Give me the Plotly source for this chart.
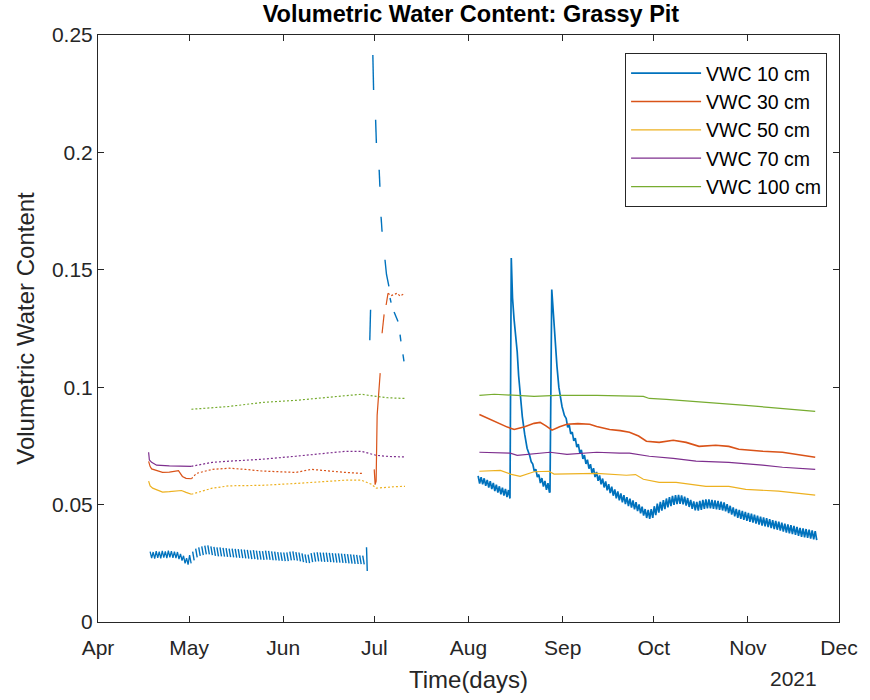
import pandas as pd
import plotly.graph_objects as go

# ---- series names and colours -------------------------------------------
depth_names = ["VWC 10 cm", "VWC 30 cm", "VWC 50 cm", "VWC 70 cm", "VWC 100 cm"]
depth_colors = ["#0072BD", "#D95319", "#EDB120", "#7E2F8E", "#77AC30"]

month_ticks = ["2021-04-01", "2021-05-01", "2021-06-01", "2021-07-01", "2021-08-01",
               "2021-09-01", "2021-10-01", "2021-11-01", "2021-12-01"]
month_labels = ["Apr", "May", "Jun", "Jul", "Aug", "Sep", "Oct", "Nov", "Dec"]
vwc_ticks = [0, 0.05, 0.1, 0.15, 0.2, 0.25]
vwc_labels = ["0", "0.05", "0.1", "0.15", "0.2", "0.25"]

# ---- 10 cm: daily high / low readings ------------------------------------
vwc10_apr_start = "2021-04-18"          # Apr 18 - May 1, continuous record
vwc10_apr_hi = [.0300, .0298, .0302, .0300, .0303, .0301, .0304, .0302, .0300, .0298,
                .0290, .0282, .0272, .0285]
vwc10_apr_lo = [.0272, .0270, .0273, .0271, .0274, .0272, .0275, .0273, .0272, .0268,
                .0262, .0250, .0244, .0250]

vwc10_mayjun_start = "2021-05-02"       # May 2 - Jun 27, intermittent record
vwc10_mayjun_hi = [.0300, .0312, .0318, .0322, .0325, .0326, .0322, .0320, .0318, .0318,
                   .0316, .0315, .0313, .0312, .0311, .0310, .0309, .0308, .0307, .0305,
                   .0306, .0304, .0303, .0302, .0304, .0303, .0301, .0300, .0298, .0297,
                   .0296, .0297, .0300, .0301, .0298, .0296, .0292, .0288, .0287, .0293,
                   .0296, .0297, .0296, .0295, .0295, .0294, .0293, .0292, .0292, .0291,
                   .0290, .0289, .0288, .0287, .0286, .0284, .0283]
vwc10_mayjun_lo = [.0262, .0275, .0282, .0285, .0288, .0288, .0285, .0282, .0280, .0280,
                   .0278, .0277, .0276, .0275, .0274, .0273, .0272, .0271, .0270, .0268,
                   .0268, .0266, .0266, .0265, .0266, .0265, .0263, .0262, .0261, .0260,
                   .0259, .0259, .0262, .0263, .0261, .0258, .0255, .0252, .0251, .0255,
                   .0257, .0258, .0257, .0256, .0256, .0255, .0254, .0253, .0253, .0252,
                   .0251, .0250, .0249, .0248, .0247, .0246, .0245]
vwc10_jun_end_dates = ["2021-06-28 10:00", "2021-06-28 16:00"]
vwc10_jun_end_vals = [.0318, .0217]

# early July: sparse readings after the wetting event (None = no data)
vwc10_jul_dates = ["2021-06-29 12:00", "2021-06-29 18:00", None,
                   "2021-06-30 12:00", "2021-06-30 18:00", None,
                   "2021-07-01 10:00", "2021-07-01 16:00", None,
                   "2021-07-02 14:00", "2021-07-02 20:00", None,
                   "2021-07-03 05:00", "2021-07-03 13:00", None,
                   "2021-07-04 12:00", "2021-07-05 00:00", "2021-07-05 19:00", None,
                   "2021-07-06 04:00", "2021-07-06 12:00", None,
                   "2021-07-07 12:00", "2021-07-08 19:00", None,
                   "2021-07-09 11:00", "2021-07-09 18:00", None,
                   "2021-07-10 10:00", "2021-07-10 18:00"]
vwc10_jul_vals = [.1200, .1330, None,
                  .2415, .2266, None,
                  .2139, .2040, None,
                  .1926, .1854, None,
                  .1726, .1662, None,
                  .1543, .1480, .1429, None,
                  .1380, .1360, None,
                  .1320, .1280, None,
                  .1224, .1195, None,
                  .1140, .1110]

vwc10_aug_start = "2021-08-04"          # Aug 4 - Aug 14
vwc10_aug_hi = [.0622, .0617, .0612, .0605, .0600, .0592, .0585, .0578, .0572, .0567, .0562]
vwc10_aug_lo = [.0590, .0586, .0580, .0573, .0566, .0558, .0551, .0544, .0538, .0532, .0526]

vwc10_storm1_dates = ["2021-08-15 02:00", "2021-08-15 12:00", "2021-08-16 00:00",
                      "2021-08-16 12:00", "2021-08-17 01:00", "2021-08-17 12:00",
                      "2021-08-18 00:00", "2021-08-18 17:00", "2021-08-19 12:00",
                      "2021-08-20 07:00"]
vwc10_storm1_vals = [.1550, .1380, .1290, .1220, .1150, .1050, .0960, .0876, .0800, .0740]

vwc10_lateaug_start = "2021-08-21"      # Aug 21 - Aug 27
vwc10_lateaug_hi = [.0708, .0673, .0651, .0628, .0613, .0601, .0591]
vwc10_lateaug_lo = [.0682, .0642, .0617, .0592, .0577, .0563, .0551]

vwc10_storm2_dates = ["2021-08-27 20:00", "2021-08-28 10:00", "2021-08-28 20:00",
                      "2021-08-29 08:00", "2021-08-30 03:00", "2021-08-30 18:00",
                      "2021-08-31 19:00", "2021-09-01 14:00"]
vwc10_storm2_vals = [.0555, .1416, .1330, .1220, .1090, .1000, .0918, .0880]

vwc10_fall_start = "2021-09-02"         # Sep 2 - Nov 23
vwc10_fall_hi = [
    # Sep
    .0867, .0839, .0809, .0783, .0757, .0733, .0711, .0691, .0672, .0655,
    .0639, .0624, .0611, .0599, .0587, .0576, .0565, .0556, .0548, .0540,
    .0532, .0525, .0518, .0510, .0501, .0491, .0481, .0477, .0481,
    # Oct
    .0493, .0504, .0512, .0519, .0526, .0532, .0537, .0540, .0541, .0539,
    .0534, .0528, .0520, .0514, .0512, .0516, .0520, .0522, .0522, .0520,
    .0518, .0516, .0513, .0509, .0502, .0495, .0488, .0482, .0477, .0473, .0469,
    # Nov
    .0465, .0461, .0457, .0453, .0449, .0445, .0442, .0438, .0434, .0431,
    .0427, .0423, .0419, .0416, .0412, .0409, .0405, .0401, .0399, .0396,
    .0393, .0390, .0387]
vwc10_fall_lo = [
    .0829, .0801, .0771, .0745, .0719, .0695, .0673, .0653, .0634, .0617,
    .0601, .0586, .0573, .0561, .0549, .0538, .0527, .0518, .0510, .0502,
    .0494, .0487, .0480, .0472, .0463, .0453, .0443, .0439, .0443,
    .0455, .0466, .0474, .0481, .0488, .0494, .0499, .0502, .0503, .0501,
    .0496, .0490, .0482, .0476, .0474, .0478, .0482, .0484, .0484, .0482,
    .0480, .0478, .0475, .0471, .0464, .0457, .0450, .0444, .0439, .0435, .0431,
    .0427, .0423, .0419, .0415, .0411, .0407, .0404, .0400, .0396, .0393,
    .0389, .0385, .0381, .0378, .0374, .0371, .0367, .0363, .0361, .0358,
    .0355, .0352, .0349]

# ---- 30 cm ----------------------------------------------------------------
vwc30_apr_dates = ["2021-04-17 16:00", "2021-04-18 04:00", "2021-04-18 16:00",
                   "2021-04-20 12:00", "2021-04-22 06:00", "2021-04-24 12:00",
                   "2021-04-26 00:00", "2021-04-27 12:00", "2021-04-28 19:00",
                   "2021-04-30 00:00", "2021-05-01 18:00"]
vwc30_apr_vals = [.0684, .0662, .0652, .0645, .0637, .0638, .0640, .0645, .0620, .0612, .0610]
vwc30_mayjun_dates = ["2021-05-01 18:00", "2021-05-03 10:00", "2021-05-08 15:00",
                      "2021-05-14 05:00", "2021-05-19 12:00", "2021-05-24 23:00",
                      "2021-05-30 12:00", "2021-06-05 02:00", "2021-06-10 07:00",
                      "2021-06-15 21:00", "2021-06-21 11:00", "2021-06-26 16:00",
                      "2021-06-27 08:00"]
vwc30_mayjun_vals = [.0610, .0633, .0650, .0655, .0650, .0643, .0640, .0637, .0650,
                     .0643, .0637, .0633, .0632]
vwc30_jul_dates = ["2021-06-30 23:00", "2021-07-01 06:00", "2021-07-01 14:00",
                   "2021-07-01 22:00", "2021-07-02 22:00", None,
                   "2021-07-03 13:00", "2021-07-04 05:00", None,
                   "2021-07-04 21:00", "2021-07-05 12:00"]
vwc30_jul_vals = [.0650, .0585, .0600, .0880, .1060, None, .1230, .1310, None, .1350, .1400]
vwc30_jultail_dates = ["2021-07-05 12:00", "2021-07-06 12:00", "2021-07-07 12:00",
                       "2021-07-08 12:00", "2021-07-09 12:00", "2021-07-10 12:00",
                       "2021-07-11 02:00"]
vwc30_jultail_vals = [.1400, .1390, .1395, .1400, .1388, .1395, .1400]
vwc30_fall_dates = ["2021-08-04 14:00", "2021-08-06 12:00", "2021-08-09 12:00",
                    "2021-08-11 12:00", "2021-08-13 19:00", "2021-08-16 01:00",
                    "2021-08-19 12:00", "2021-08-22 14:00", "2021-08-24 14:00",
                    "2021-08-26 12:00", "2021-08-28 12:00", "2021-08-31 00:00",
                    "2021-09-02 10:00", "2021-09-06 00:00", "2021-09-09 22:00",
                    "2021-09-12 05:00", "2021-09-16 11:00", "2021-09-20 00:00",
                    "2021-09-23 00:00", "2021-09-26 00:00", "2021-09-28 14:00",
                    "2021-10-02 19:00", "2021-10-07 10:00", "2021-10-11 16:00",
                    "2021-10-15 22:00", "2021-10-21 10:00", "2021-10-25 17:00",
                    "2021-10-29 00:00", "2021-11-05 20:00", "2021-11-12 09:00",
                    "2021-11-18 22:00", "2021-11-23 04:00"]
vwc30_fall_vals = [.0884, .0872, .0855, .0842, .0830, .0820, .0832, .0846, .0850, .0835,
                   .0817, .0832, .0842, .0845, .0842, .0833, .0820, .0815, .0808, .0792,
                   .0770, .0765, .0774, .0765, .0748, .0753, .0748, .0736, .0727, .0723,
                   .0710, .0702]

# ---- 50 cm ----------------------------------------------------------------
vwc50_apr_dates = ["2021-04-17 16:00", "2021-04-18 04:00", "2021-04-19 00:00",
                   "2021-04-22 06:00", "2021-04-24 12:00", "2021-04-26 20:00",
                   "2021-04-28 12:00", "2021-04-30 00:00", "2021-05-01 18:00"]
vwc50_apr_vals = [.0600, .0580, .0570, .0553, .0555, .0557, .0560, .0552, .0544]
vwc50_mayjul_dates = ["2021-05-01 18:00", "2021-05-04 12:00", "2021-05-08 15:00",
                      "2021-05-14 05:00", "2021-05-24 23:00", "2021-06-05 02:00",
                      "2021-06-10 07:00", "2021-06-15 21:00", "2021-06-21 11:00",
                      "2021-06-26 16:00", "2021-06-30 00:00", "2021-07-01 14:00",
                      "2021-07-04 00:00", "2021-07-07 12:00", "2021-07-11 02:00"]
vwc50_mayjul_vals = [.0544, .0555, .0570, .0580, .0582, .0590, .0595, .0600, .0604,
                     .0604, .0587, .0570, .0573, .0576, .0578]
vwc50_fall_dates = ["2021-08-04 14:00", "2021-08-11 12:00", "2021-08-14 18:00",
                    "2021-08-18 00:00", "2021-08-22 14:00", "2021-08-27 12:00",
                    "2021-08-29 04:00", "2021-09-05 16:00", "2021-09-12 05:00",
                    "2021-09-22 00:00", "2021-09-25 00:00", "2021-09-27 14:00",
                    "2021-10-02 19:00", "2021-10-08 09:00", "2021-10-14 22:00",
                    "2021-10-18 04:00", "2021-10-25 17:00", "2021-10-31 07:00",
                    "2021-11-11 02:00", "2021-11-23 04:00"]
vwc50_fall_vals = [.0642, .0646, .0630, .0620, .0640, .0642, .0630, .0630, .0633, .0625,
                   .0628, .0608, .0595, .0595, .0582, .0578, .0578, .0565, .0557, .0540]

# ---- 70 cm ----------------------------------------------------------------
vwc70_apr_dates = ["2021-04-17 16:00", "2021-04-17 22:00", "2021-04-18 16:00",
                   "2021-04-20 07:00", "2021-04-24 12:00", "2021-04-28 12:00",
                   "2021-05-01 18:00"]
vwc70_apr_vals = [.0723, .0690, .0680, .0668, .0665, .0664, .0663]
vwc70_mayjul_dates = ["2021-05-01 18:00", "2021-05-08 15:00", "2021-05-14 05:00",
                      "2021-05-24 23:00", "2021-06-05 02:00", "2021-06-15 21:00",
                      "2021-06-21 11:00", "2021-06-26 16:00", "2021-07-01 14:00",
                      "2021-07-05 12:00", "2021-07-11 02:00"]
vwc70_mayjul_vals = [.0663, .0680, .0685, .0693, .0706, .0719, .0727, .0727, .0710,
                     .0705, .0703]
vwc70_fall_dates = ["2021-08-04 14:00", "2021-08-14 18:00", "2021-08-17 01:00",
                    "2021-08-27 20:00", "2021-09-02 10:00", "2021-09-12 05:00",
                    "2021-09-19 18:00", "2021-09-23 00:00", "2021-09-29 13:00",
                    "2021-10-07 10:00", "2021-10-14 22:00", "2021-10-25 17:00",
                    "2021-11-05 20:00", "2021-11-12 09:00", "2021-11-23 04:00"]
vwc70_fall_vals = [.0723, .0719, .0710, .0723, .0714, .0723, .0719, .0719, .0706, .0697,
                   .0685, .0680, .0668, .0659, .0650]

# ---- 100 cm ---------------------------------------------------------------
vwc100_mayjul_dates = ["2021-05-01 18:00", "2021-05-08 15:00", "2021-05-14 05:00",
                       "2021-05-24 23:00", "2021-06-05 02:00", "2021-06-15 21:00",
                       "2021-06-26 16:00", "2021-07-01 14:00", "2021-07-05 12:00",
                       "2021-07-11 02:00"]
vwc100_mayjul_vals = [.0906, .0914, .0918, .0935, .0944, .0957, .0970, .0961, .0955, .0952]
vwc100_fall_dates = ["2021-08-04 14:00", "2021-08-09 12:00", "2021-08-17 01:00",
                     "2021-08-22 14:00", "2021-08-30 03:00", "2021-09-12 05:00",
                     "2021-09-27 14:00", "2021-09-29 13:00", "2021-10-05 03:00",
                     "2021-10-13 22:00", "2021-10-18 04:00", "2021-10-31 07:00",
                     "2021-11-07 19:00", "2021-11-16 15:00", "2021-11-23 04:00"]
vwc100_fall_vals = [.0965, .0970, .0965, .0961, .0965, .0965, .0961, .0952, .0948, .0940,
                    .0935, .0923, .0914, .0906, .0897]


def daily_cycle(start, hi, lo, joined=True):
    """Lay out daily high (early) / low (afternoon) readings as a time series."""
    assert len(hi) == len(lo)
    xs, ys = [], []
    for day, h, l in zip(pd.date_range(start, periods=len(hi), freq="D"), hi, lo):
        xs += [day + pd.Timedelta(hours=4), day + pd.Timedelta(hours=16)]
        ys += [h, l]
        if not joined:
            xs.append(None)
            ys.append(None)
    return xs, ys


FONT = "Liberation Sans, Arial, Helvetica, sans-serif"
AX = "#262626"
DOT = "2px,2px"

# Aug-Nov records: one solid trace per depth, these carry the legend entries
xa, ya = daily_cycle(vwc10_aug_start, vwc10_aug_hi, vwc10_aug_lo)
xb, yb = daily_cycle(vwc10_lateaug_start, vwc10_lateaug_hi, vwc10_lateaug_lo)
xc, yc = daily_cycle(vwc10_fall_start, vwc10_fall_hi, vwc10_fall_lo)
legend_segments = [
    (xa + vwc10_storm1_dates + xb + vwc10_storm2_dates + xc,
     ya + vwc10_storm1_vals + yb + vwc10_storm2_vals + yc, 0, 1.7),
    (vwc30_fall_dates, vwc30_fall_vals, 1, 1.6),
    (vwc50_fall_dates, vwc50_fall_vals, 2, 1.2),
    (vwc70_fall_dates, vwc70_fall_vals, 3, 1.2),
    (vwc100_fall_dates, vwc100_fall_vals, 4, 1.2),
]

# Apr-Jul records: (x, y, series index, dash, width)
segments = []
x, y = daily_cycle(vwc10_apr_start, vwc10_apr_hi, vwc10_apr_lo)
segments.append((x, y, 0, "solid", 1.3))
x, y = daily_cycle(vwc10_mayjun_start, vwc10_mayjun_hi, vwc10_mayjun_lo, joined=False)
segments.append((x + vwc10_jun_end_dates, y + vwc10_jun_end_vals, 0, "solid", 1.4))
segments.append((vwc10_jul_dates, vwc10_jul_vals, 0, "solid", 1.4))
segments.append((vwc30_apr_dates, vwc30_apr_vals, 1, "solid", 1.2))
segments.append((vwc30_mayjun_dates, vwc30_mayjun_vals, 1, DOT, 1.2))
segments.append((vwc30_jul_dates, vwc30_jul_vals, 1, "solid", 1.2))
segments.append((vwc30_jultail_dates, vwc30_jultail_vals, 1, DOT, 1.2))
segments.append((vwc50_apr_dates, vwc50_apr_vals, 2, "solid", 1.2))
segments.append((vwc50_mayjul_dates, vwc50_mayjul_vals, 2, DOT, 1.2))
segments.append((vwc70_apr_dates, vwc70_apr_vals, 3, "solid", 1.2))
segments.append((vwc70_mayjul_dates, vwc70_mayjul_vals, 3, DOT, 1.2))
segments.append((vwc100_mayjul_dates, vwc100_mayjul_vals, 4, DOT, 1.2))

fig = go.Figure()

for x, y, idx, width in legend_segments:
    fig.add_trace(go.Scatter(
        x=x, y=y, mode="lines", name=depth_names[idx], showlegend=True,
        line=dict(color=depth_colors[idx], width=width), hoverinfo="skip"))

for x, y, idx, dash, width in segments:
    fig.add_trace(go.Scatter(
        x=x, y=y, mode="lines", name=depth_names[idx], showlegend=False,
        connectgaps=False,
        line=dict(color=depth_colors[idx], width=width, dash=dash),
        hoverinfo="skip"))

axis_common = dict(
    showline=True, linecolor=AX, linewidth=1, mirror="ticks",
    ticks="inside", ticklen=6, tickcolor=AX, tickwidth=1,
    showgrid=False, zeroline=False,
    tickfont=dict(family=FONT, size=21, color=AX),
)

fig.update_layout(
    width=870, height=700,
    margin=dict(l=98, r=26, t=35, b=77),
    paper_bgcolor="white", plot_bgcolor="white",
    font=dict(family=FONT, color=AX),
    title=dict(text="Volumetric Water Content: Grassy Pit",
               font=dict(family=FONT, size=23.5, color="#000000", weight="bold"),
               x=0.5413, xanchor="center", xref="container",
               y=1 - 14 / 700, yanchor="middle", yref="container"),
    xaxis=dict(type="date", range=["2021-04-01", "2021-12-01"],
               tickvals=month_ticks, ticktext=month_labels, ticklabelstandoff=7,
               title=dict(text="Time(days)", font=dict(family=FONT, size=24, color=AX),
                          standoff=12),
               **axis_common),
    yaxis=dict(range=[0, 0.25], tickvals=vwc_ticks, ticktext=vwc_labels,
               title=dict(text="Volumetric Water Content",
                          font=dict(family=FONT, size=24, color=AX), standoff=10),
               **axis_common),
    legend=dict(x=(832 - 98) / 746, xanchor="right", y=(623 - 53) / 588, yanchor="top",
                bgcolor="white", bordercolor=AX, borderwidth=1,
                font=dict(family=FONT, size=19.5, color="#000000"),
                itemwidth=70, tracegroupgap=0),
    annotations=[dict(text="2021", x=(798 - 98) / 746, xref="paper", xanchor="center",
                      y=-57 / 588, yref="paper", yanchor="middle", showarrow=False,
                      font=dict(family=FONT, size=21, color=AX))],
)

fig.write_html("out.html")
